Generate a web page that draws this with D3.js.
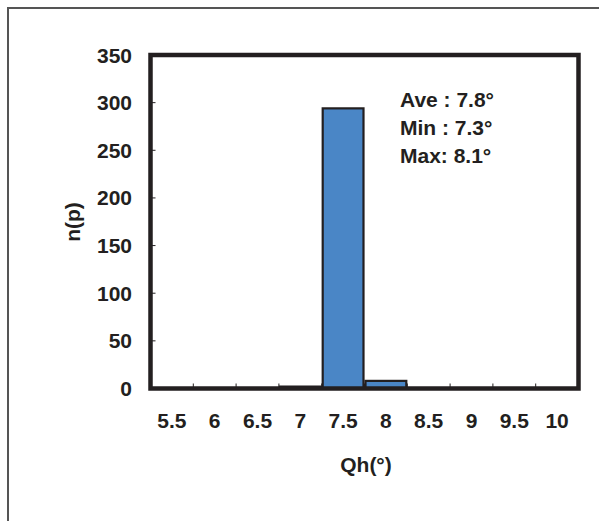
<!DOCTYPE html>
<html><head><meta charset="utf-8">
<script src="https://cdn.jsdelivr.net/npm/d3@7"></script>
<style>body{margin:0;background:#fff}svg{display:block}text{font-family:"Liberation Sans",Arial,sans-serif;font-weight:bold;fill:#231f20}</style>
</head><body>
<script>
const categories = ["5.5","6","6.5","7","7.5","8","8.5","9","9.5","10"];
const counts = [0,0,0,2,294,8,0,0,0,0];
const yTicks = [0,50,100,150,200,250,300,350];
const notes = ["Ave : 7.8°","Min : 7.3°","Max: 8.1°"];
const xTitle = "Qh(°)", yTitle = "n(p)";

const W=599,H=521;
const svg=d3.select("body").append("svg").attr("width",W).attr("height",H);
svg.append("rect").attr("x",8).attr("y",8).attr("width",W).attr("height",H)
  .attr("fill","none").attr("stroke","#555").attr("stroke-width",2);

const L=150.5,R=578.5,T=55,B=388.5;
const x=d3.scaleBand().domain(categories).range([L,R]).padding(0);
const y=d3.scaleLinear().domain([0,350]).range([B,T]);

// bars
svg.selectAll("rect.bar").data(categories.map((c,i)=>({c,v:counts[i]})).filter(d=>d.v>0))
  .enter().append("rect").attr("class","bar")
  .attr("x",d=>x(d.c)+1).attr("width",x.bandwidth()-2)
  .attr("y",d=>y(d.v)).attr("height",d=>B-y(d.v))
  .attr("fill","#4a86c6").attr("stroke","#231f20").attr("stroke-width",2.2);

// ticks
const bounds=categories.slice(1).map(c=>x(c));
svg.selectAll("line.xt").data(bounds).enter().append("line")
  .attr("x1",d=>d).attr("x2",d=>d).attr("y1",B).attr("y2",B-5)
  .attr("stroke","#231f20").attr("stroke-width",1);
svg.selectAll("line.yt").data(yTicks.slice(1,-1)).enter().append("line")
  .attr("x1",L).attr("x2",L+5).attr("y1",d=>y(d)).attr("y2",d=>y(d))
  .attr("stroke","#231f20").attr("stroke-width",1);

// frame
svg.append("rect").attr("x",L).attr("y",T).attr("width",R-L).attr("height",B-T)
  .attr("fill","none").attr("stroke","#231f20").attr("stroke-width",4.5);

// labels
svg.selectAll("text.yl").data(yTicks).enter().append("text")
  .attr("x",132).attr("y",d=>y(d)).attr("dy","0.36em").attr("text-anchor","end")
  .attr("font-size",21).text(d=>d);
svg.selectAll("text.xl").data(categories).enter().append("text")
  .attr("x",d=>x(d)+x.bandwidth()/2).attr("y",428).attr("text-anchor","middle")
  .attr("font-size",21).text(d=>d);
svg.append("text").attr("x",366).attr("y",472).attr("text-anchor","middle")
  .attr("font-size",21).text(xTitle);
svg.append("text").attr("transform","translate(80,222) rotate(-90)").attr("text-anchor","middle")
  .attr("font-size",21).text(yTitle);
svg.selectAll("text.note").data(notes).enter().append("text")
  .attr("x",400).attr("y",(d,i)=>107+i*28).attr("font-size",21).text(d=>d);
</script>
</body></html>
